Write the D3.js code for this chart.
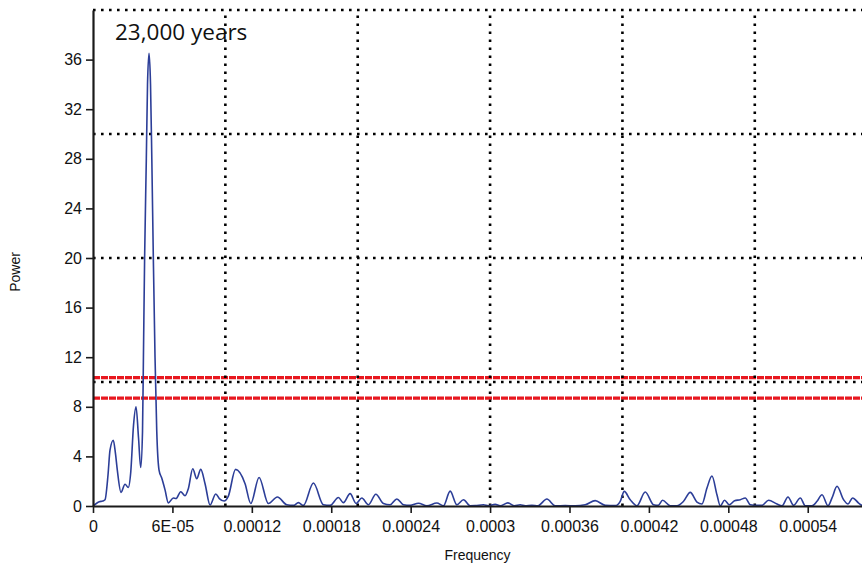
<!DOCTYPE html>
<html><head><meta charset="utf-8">
<script src="https://cdn.jsdelivr.net/npm/d3@7/dist/d3.min.js"></script>
<style>body{margin:0;background:#fff}svg{display:block}</style>
</head><body>
<svg id="c" width="862" height="565"></svg>
<script>
// frequency in units of 1e-6
const frequencyMicro = [0,4.76,7.33,9.07,11.34,12.85,15.34,17.01,18.37,21.16,24.19,26.68,28.50,30.61,32.50,34.39,36.05,37.41,38.10,39.00,40.29,41.19,42.33,43.46,44.44,45.58,46.86,48.15,49.89,51.93,54.42,56.92,60.70,62.74,66.29,69.54,72.03,75.36,78.38,81.41,84.66,88.44,92.74,95.46,99.02,102.27,107.71,114.89,119.20,125.47,132.50,139.30,146.41,151.40,155.18,158.96,166.52,174.07,179.14,185.41,189.19,194.25,198.79,203.10,208.09,213.68,219.43,224.49,229.55,234.54,239.61,245.88,252.23,259.79,264.78,269.84,274.91,279.89,284.96,288.74,295.01,298.79,303.85,307.63,313.45,318.44,322.75,326.53,331.59,336.13,342.93,349.21,356.77,364.32,371.88,379.44,387.00,394.56,398.34,401.36,405.90,410.96,417.23,423.51,427.06,430.31,436.13,441.19,446.18,451.25,456.30,460.09,463.87,467.65,471.43,473.92,477.17,480.73,484.73,489.04,492.82,496.60,501.66,505.44,510.43,516.78,520.56,525.09,529.33,534.39,538.17,543.24,547.01,550.79,555.33,558.35,562.13,567.12,570.45,573.92,578.46,581.25];
const power = [0,0.35,0.4,0.5,2.5,4.5,5.3,4.2,2.9,1.1,1.75,1.5,2.7,6.5,8.0,5.5,3.1,6,12,20,28,34,36.5,34,28,20,12,6.1,2.9,2.25,1.3,0.25,0.65,0.6,1.15,0.83,1.4,3.0,2.2,2.95,1.8,0.08,0.97,0.6,0.4,0.8,2.95,1.8,0.2,2.3,0.2,0.73,0.1,0.05,0.27,0.05,1.85,0.1,0.05,0.68,0.27,1.0,0.2,0.65,0.1,0.95,0.2,0.1,0.57,0.1,0.05,0.22,0.02,0.24,0.02,1.2,0.1,0.5,0.02,0.03,0.1,0.02,0.13,0.02,0.25,0.02,0.1,0.02,0.05,0.02,0.56,0.02,0.03,0.02,0.1,0.43,0.05,0.03,0.38,1.18,0.5,0.02,1.13,0.1,0.05,0.46,0.02,0.02,0.38,1.1,0.32,0.16,1.45,2.42,0.9,0.02,0.46,0.1,0.43,0.51,0.65,0.1,0.05,0.05,0.46,0.16,0.02,0.73,0.05,0.65,0.02,0.02,0.38,0.91,0.02,0.65,1.59,0.5,0.16,0.65,0.24,0.02];

const xDomain = [0, 0.000581];
const yDomain = [0, 40];
const xTickValues = [0, 0.00006, 0.00012, 0.00018, 0.00024, 0.0003, 0.00036, 0.00042, 0.00048, 0.00054];
const xTickLabels = ["0", "6E-05", "0.00012", "0.00018", "0.00024", "0.0003", "0.00036", "0.00042", "0.00048", "0.00054"];
const yTickValues = [0, 4, 8, 12, 16, 20, 24, 28, 32, 36];
const gridXValues = [0.0001, 0.0002, 0.0003, 0.0004, 0.0005];
const gridYValues = [10, 20, 30, 40];
const thresholdValues = [10.35, 8.7];
const annotationText = "23,000 years";
const xTitle = "Frequency";
const yTitle = "Power";

(function () {
const svg = d3.select("#c");
const pL = 93, pR = 862, pT = 10, pB = 506;
const x = d3.scaleLinear().domain(xDomain).range([pL, pR]);
const y = d3.scaleLinear().domain(yDomain).range([pB, pT]);
const font = "'Liberation Sans', Arial, sans-serif";

// threshold red lines
svg.append("g").selectAll("line").data(thresholdValues).join("line")
  .attr("x1", pL).attr("x2", pR)
  .attr("y1", d => y(d)).attr("y2", d => y(d))
  .attr("stroke", "#e8171f").attr("stroke-width", 3.2)
  .attr("stroke-dasharray", "7,1");

// dotted grid
const grid = svg.append("g").attr("stroke", "#000").attr("stroke-width", 2.6)
  .attr("stroke-dasharray", "2.6,5.4");
grid.selectAll(".gx").data(gridXValues).join("line").attr("class", "gx")
  .attr("x1", d => x(d)).attr("x2", d => x(d)).attr("y1", pB).attr("y2", pT);
grid.selectAll(".gy").data(gridYValues).join("line").attr("class", "gy")
  .attr("x1", pL).attr("x2", pR).attr("y1", d => y(d)).attr("y2", d => y(d));

// spectrum
const pts = frequencyMicro.map((f, i) => [f * 1e-6, power[i]]);
svg.append("path").datum(pts)
  .attr("fill", "none").attr("stroke", "#2c3e98").attr("stroke-width", 1.6)
  .attr("d", d3.line().x(d => x(d[0])).y(d => y(d[1])).curve(d3.curveMonotoneX));

// axes
const yAxis = svg.append("g").attr("transform", `translate(${pL},0)`)
  .call(d3.axisLeft(y).tickValues(yTickValues).tickSize(7).tickSizeOuter(0).tickPadding(4));
const xAxis = svg.append("g").attr("transform", `translate(0,${pB})`)
  .call(d3.axisBottom(x).tickValues(xTickValues).tickSize(7).tickSizeOuter(0).tickPadding(8)
    .tickFormat((d, i) => xTickLabels[i]));
[yAxis, xAxis].forEach(g => {
  g.select(".domain").attr("stroke", "#1a1a1a").attr("stroke-width", 2.2);
  g.selectAll(".tick line").attr("stroke", "#1a1a1a").attr("stroke-width", 1.6);
  g.selectAll(".tick text").attr("fill", "#111").style("font-family", font).style("font-size", "16px");
});

// titles
svg.append("text").attr("x", (pL + pR) / 2).attr("y", 560)
  .attr("text-anchor", "middle").style("font-family", font).style("font-size", "14px").attr("fill", "#111")
  .text(xTitle);
svg.append("text").attr("transform", "translate(20,272) rotate(-90)")
  .attr("text-anchor", "middle").style("font-family", font).style("font-size", "14px").attr("fill", "#111")
  .text(yTitle);

// annotation
svg.append("text").attr("x", 115).attr("y", 40)
  .style("font-family", "'Open Sans', sans-serif").style("font-size", "22.5px").attr("fill", "#111")
  .text(annotationText);
})();
</script>
</body></html>
